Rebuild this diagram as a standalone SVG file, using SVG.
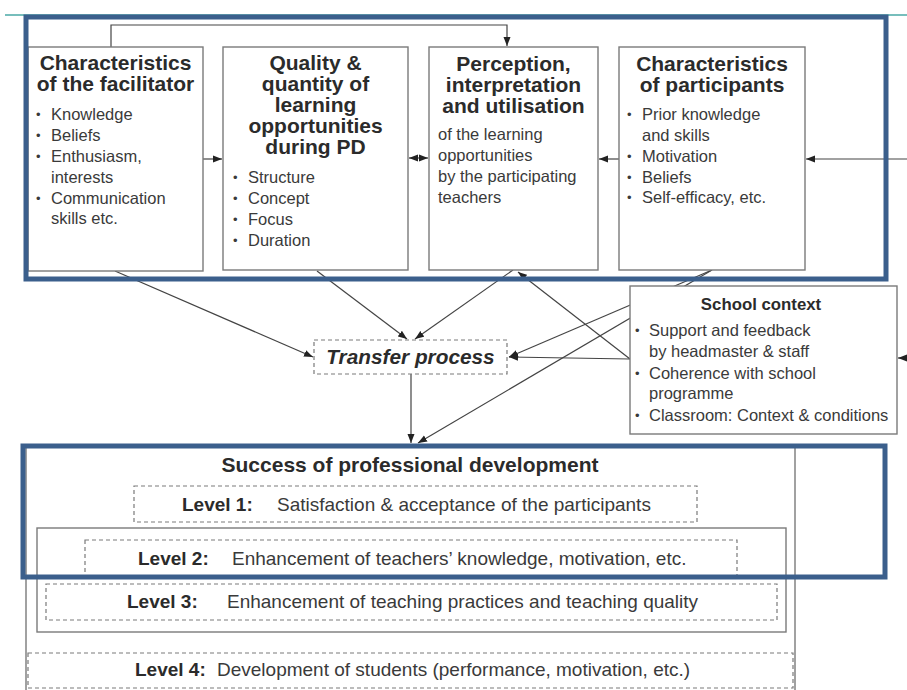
<svg xmlns="http://www.w3.org/2000/svg" width="907" height="690" viewBox="0 0 907 690">
<style>
text{font-family:"Liberation Sans",Arial,sans-serif;fill:#3a3a3a}
.t{font-weight:bold;font-size:21px;fill:#2b2b2b;text-anchor:middle}
.b{font-size:16.5px}
.d{font-size:13px}
.lv{font-size:19px}
.lb{font-size:19px;font-weight:bold;fill:#2b2b2b}
.box{fill:#fff;stroke:#7a7a7a;stroke-width:1.4}
.dash{fill:#fff;stroke:#7a7a7a;stroke-width:1.2;stroke-dasharray:4 3}
.c{fill:none;stroke:#444;stroke-width:1.2}
.blue{fill:none;stroke:#3b5f8c;stroke-width:5}
</style>
<defs>
<marker id="ah" markerWidth="10" markerHeight="8" refX="9" refY="4" orient="auto" markerUnits="userSpaceOnUse">
<path d="M0,0.5 L9,4 L0,7.5 Z" fill="#222"/>
</marker>
<marker id="as" markerWidth="10" markerHeight="8" refX="1" refY="4" orient="auto" markerUnits="userSpaceOnUse">
<path d="M10,0.5 L1,4 L10,7.5 Z" fill="#222"/>
</marker>
</defs>
<rect width="907" height="690" fill="#fff"/>
<line x1="5" y1="15" x2="907" y2="15" stroke="#4aa8a6" stroke-width="1.5"/>

<g id="connectors">
<path class="c" d="M111,47 V25 H507 V46" marker-end="url(#ah)"/>
<path class="c" d="M203,159 H222" marker-end="url(#ah)"/>
<path class="c" d="M409,158 H428" marker-start="url(#as)" marker-end="url(#ah)"/>
<path class="c" d="M619,159 H599" marker-end="url(#ah)"/>
<path class="c" d="M907,159 H806" marker-end="url(#ah)"/>
<path class="c" d="M115,271 L313,357" marker-end="url(#ah)"/>
<path class="c" d="M317,271 L407,339" marker-end="url(#ah)"/>
<path class="c" d="M513,270 L415,339" marker-end="url(#ah)"/>
<path class="c" d="M712,270 L509,357" marker-end="url(#ah)"/>
<path class="c" d="M712,270 L418,443" marker-end="url(#ah)"/>
<path class="c" d="M630,359 L509,357" marker-end="url(#ah)"/>
<path class="c" d="M630,359 L518,272" marker-end="url(#ah)"/>
<path class="c" d="M411,374 V443" marker-end="url(#ah)"/>
<path class="c" d="M907,358 H898" marker-end="url(#ah)"/>
<path class="c" d="M411,632 V652" marker-end="url(#ah)"/>
</g>

<g id="facilitator">
<rect class="box" x="28" y="47" width="175" height="224"/>
<text class="t" x="115.5" y="70">Characteristics</text>
<text class="t" x="115.5" y="91">of the facilitator</text>
<text class="d" x="36" y="119">•</text><text class="b" x="51" y="120">Knowledge</text>
<text class="d" x="36" y="140">•</text><text class="b" x="51" y="141">Beliefs</text>
<text class="d" x="36" y="161">•</text><text class="b" x="51" y="162">Enthusiasm,</text>
<text class="b" x="51" y="183">interests</text>
<text class="d" x="36" y="203">•</text><text class="b" x="51" y="204">Communication</text>
<text class="b" x="51" y="224">skills etc.</text>
</g>

<g id="quality">
<rect class="box" x="223" y="47" width="185" height="223"/>
<text class="t" x="315.5" y="70">Quality &amp;</text>
<text class="t" x="315.5" y="91">quantity of</text>
<text class="t" x="315.5" y="112">learning</text>
<text class="t" x="315.5" y="133">opportunities</text>
<text class="t" x="315.5" y="154">during PD</text>
<text class="d" x="233" y="182">•</text><text class="b" x="248" y="183">Structure</text>
<text class="d" x="233" y="203">•</text><text class="b" x="248" y="204">Concept</text>
<text class="d" x="233" y="224">•</text><text class="b" x="248" y="225">Focus</text>
<text class="d" x="233" y="245">•</text><text class="b" x="248" y="246">Duration</text>
</g>

<g id="perception">
<rect class="box" x="429" y="47" width="169" height="223"/>
<text class="t" x="513.5" y="71">Perception,</text>
<text class="t" x="513.5" y="92">interpretation</text>
<text class="t" x="513.5" y="113">and utilisation</text>
<text class="b" x="438" y="140">of the learning</text>
<text class="b" x="438" y="161">opportunities</text>
<text class="b" x="438" y="182">by the participating</text>
<text class="b" x="438" y="203">teachers</text>
</g>

<g id="participants">
<rect class="box" x="619" y="47" width="186" height="223"/>
<text class="t" x="712" y="71">Characteristics</text>
<text class="t" x="712" y="92">of participants</text>
<text class="d" x="627" y="119">•</text><text class="b" x="642" y="120">Prior knowledge</text>
<text class="b" x="642" y="141">and skills</text>
<text class="d" x="627" y="161">•</text><text class="b" x="642" y="162">Motivation</text>
<text class="d" x="627" y="182">•</text><text class="b" x="642" y="183">Beliefs</text>
<text class="d" x="627" y="202">•</text><text class="b" x="642" y="203">Self-efficacy, etc.</text>
</g>

<g id="school-context">
<rect class="box" x="630" y="286" width="267" height="148"/>
<text x="761" y="310" style="font-weight:bold;font-size:16.8px;text-anchor:middle;fill:#2b2b2b">School context</text>
<text class="d" x="635" y="335">•</text><text class="b" x="649" y="336">Support and feedback</text>
<text class="b" x="649" y="357">by headmaster &amp; staff</text>
<text class="d" x="635" y="378">•</text><text class="b" x="649" y="379">Coherence with school</text>
<text class="b" x="649" y="399">programme</text>
<text class="d" x="635" y="420">•</text><text class="b" x="649" y="421">Classroom: Context &amp; conditions</text>
</g>

<g id="transfer">
<rect class="dash" x="314" y="340" width="193" height="34"/>
<text x="410.5" y="364" style="font-weight:bold;font-style:italic;font-size:20.8px;text-anchor:middle;fill:#2b2b2b">Transfer process</text>
</g>

<g id="success">
<rect class="box" x="26" y="446" width="769" height="260"/>
<text class="t" x="410" y="472">Success of professional development</text>
<rect class="box" x="37" y="528" width="749" height="104"/>
</g>

<g id="level1">
<rect class="dash" x="134" y="486" width="563" height="36"/>
<text class="lb" x="182" y="511">Level 1:</text>
<text class="lv" x="277" y="511">Satisfaction &amp; acceptance of the participants</text>
</g>

<g id="level2">
<rect class="dash" x="85" y="540" width="652" height="36"/>
<text class="lb" x="138" y="565">Level 2:</text>
<text class="lv" x="232" y="565">Enhancement of teachers’ knowledge, motivation, etc.</text>
</g>

<g id="level3">
<rect class="dash" x="46" y="584" width="731" height="36"/>
<text class="lb" x="127" y="608">Level 3:</text>
<text class="lv" x="227" y="608">Enhancement of teaching practices and teaching quality</text>
</g>

<g id="level4">
<rect class="dash" x="28" y="653" width="765" height="35"/>
<text class="lb" x="135" y="676">Level 4:</text>
<text class="lv" x="217" y="676">Development of students (performance, motivation, etc.)</text>
</g>

<g id="highlights">
<rect class="blue" x="26" y="17" width="860" height="262"/>
<rect class="blue" x="23" y="446" width="862" height="131"/>
</g>
</svg>
